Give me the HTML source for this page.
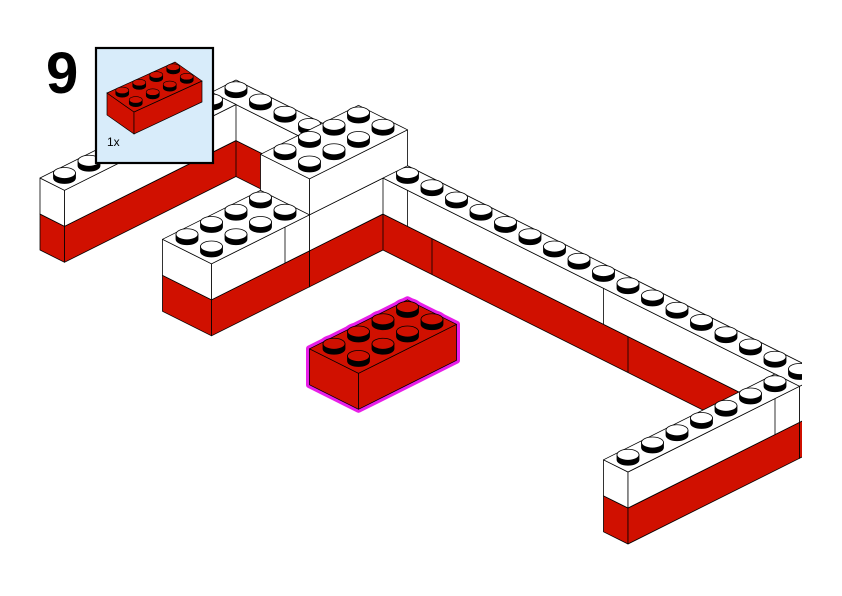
<!DOCTYPE html>
<html><head><meta charset="utf-8"><style>
html,body{margin:0;padding:0;background:#fff;}
#wrap{position:relative;width:842px;height:596px;overflow:hidden;}
svg{position:absolute;left:0;top:0;}
.t9{position:absolute;left:46px;top:40px;font:bold 58px "Liberation Sans",sans-serif;color:#000;}
</style></head><body>
<div id="wrap">
<svg id="s" width="842" height="596" viewBox="0 0 842 596"></svg>
<div class="t9">9</div>
</div>
<script>
var RED="#d01000",WH="#ffffff",LINE="#000";
function P(x,y,z){return [383+24.5*(x-y),250+12.25*(x+y)-36*z];}
function pts(a){return a.map(function(p){return p[0].toFixed(1)+","+p[1].toFixed(1)}).join(" ");}
var out=[];
function poly(a,f){out.push('<polygon points="'+pts(a)+'" fill="'+f+'" stroke="'+LINE+'" stroke-width="0.8" stroke-linejoin="round"/>');}
function box(x0,x1,y0,y1,z0,z1,f){
 poly([P(x0,y1,z0),P(x1,y1,z0),P(x1,y1,z1),P(x0,y1,z1)],f);
 poly([P(x1,y1,z0),P(x1,y0,z0),P(x1,y0,z1),P(x1,y1,z1)],f);
 poly([P(x0,y0,z1),P(x1,y0,z1),P(x1,y1,z1),P(x0,y1,z1)],f);
}
function stud(cx,cy,rx,ry,h,top,sw){
 sw=sw||0.8;
 out.push('<path d="M'+(cx-rx)+','+(cy-h)+' L'+(cx-rx)+','+cy+' A'+rx+','+ry+' 0 0 0 '+(cx+rx)+','+cy+' L'+(cx+rx)+','+(cy-h)+' Z" fill="#000" stroke="#000" stroke-width="'+sw+'"/>');
 out.push('<ellipse cx="'+cx+'" cy="'+(cy-h)+'" rx="'+rx+'" ry="'+ry+'" fill="'+top+'" stroke="#000" stroke-width="'+sw+'"/>');
}
function cells(x0,x1,y0,y1){var c=[];for(var x=x0;x<x1;x++)for(var y=y0;y<y1;y++)c.push([x+.5,y+.5]);c.sort(function(a,b){return (a[0]+a[1])-(b[0]+b[1]);});return c;}
function studs(x0,x1,y0,y1,z,top){
 cells(x0,x1,y0,y1).forEach(function(q){var p=P(q[0],q[1],z);stud(p[0],p[1],11,5.5,5,top);});
}
function seam(x0,y0,x1,y1,z0,z1){var a=P(x0,y0,z0),b=P(x1,y1,z1);out.push('<line x1="'+a[0]+'" y1="'+a[1]+'" x2="'+b[0]+'" y2="'+b[1]+'" stroke="#000" stroke-width="0.8"/>');}
out.push('<defs><clipPath id="c"><rect x="0" y="0" width="802" height="596"/></clipPath></defs><g clip-path="url(#c)">');
// long wall
box(-7,17,-1,0,0,1,RED);box(-7,17,-1,0,1,2,WH);
seam(1,0,1,0,1,2);seam(9,0,9,0,1,2);seam(2,0,2,0,0,1);seam(10,0,10,0,0,1);
studs(-7,17,-1,0,2,WH);
// W1
box(-7,-6,0,7,0,1,RED);box(-7,-6,0,7,1,2,WH);studs(-7,-6,0,7,2,WH);
// V wall
box(-1,0,0,3,0,1,RED);box(-1,0,0,3,1,2,WH);
// B1
box(-2,0,3,7,0,1,RED);box(-2,0,3,7,1,2,WH);seam(0,4,0,4,1,2);
// T
box(-2,0,-1,3,2,3,WH);studs(-2,0,-1,3,3,WH);
studs(-2,0,3,7,2,WH);
// R
box(16,17,0,7,0,1,RED);box(16,17,0,7,1,2,WH);seam(17,1,17,1,1,2);studs(16,17,0,7,2,WH);
// N highlight (magenta halo)
var MG="#e81ee8";
var sil=[P(4,7,0),P(6,7,0),P(6,3,0),P(6,3,1),P(4,3,1),P(4,7,1)];
out.push('<polygon points="'+pts(sil)+'" fill="'+MG+'" stroke="'+MG+'" stroke-width="7" stroke-linejoin="round"/>');
cells(4,6,3,7).forEach(function(q){var p=P(q[0],q[1],1);
 out.push('<rect x="'+(p[0]-11)+'" y="'+(p[1]-5)+'" width="22" height="5" fill="'+MG+'" stroke="'+MG+'" stroke-width="7"/>');
 out.push('<ellipse cx="'+p[0]+'" cy="'+(p[1]-5)+'" rx="11" ry="5.5" fill="'+MG+'" stroke="'+MG+'" stroke-width="7"/>');});
box(4,6,3,7,0,1,RED);studs(4,6,3,7,1,RED);
out.push('</g>');
// inset
out.push('<rect x="96" y="48" width="117" height="115" fill="#d8ecfa" stroke="#000" stroke-width="2.2"/>');
function ip(a){return a.map(function(p){return p.join(",")}).join(" ");}
out.push('<polygon points="'+ip([[107,93],[134,112],[134,134],[107,115]])+'" fill="'+RED+'" stroke="#000" stroke-width="0.7"/>');
out.push('<polygon points="'+ip([[134,112],[202,81],[202,102],[134,134]])+'" fill="'+RED+'" stroke="#000" stroke-width="0.7"/>');
out.push('<polygon points="'+ip([[107,93],[134,112],[202,81],[175,62]])+'" fill="'+RED+'" stroke="#000" stroke-width="0.7"/>');
var ic=[];for(var i=0;i<2;i++)for(var j=0;j<4;j++)ic.push([107+(i+.5)*13.5+(j+.5)*17,93+(i+.5)*9.5-(j+.5)*7.75]);
ic.sort(function(a,b){return a[1]-b[1];});
ic.forEach(function(c){stud(c[0],c[1],6.5,3.3,3.5,RED,0.6);});
out.push('<text x="107" y="146" font-family="Liberation Sans, sans-serif" font-size="12" fill="#000">1x</text>');
document.getElementById("s").innerHTML=out.join("");
</script>
</body></html>
